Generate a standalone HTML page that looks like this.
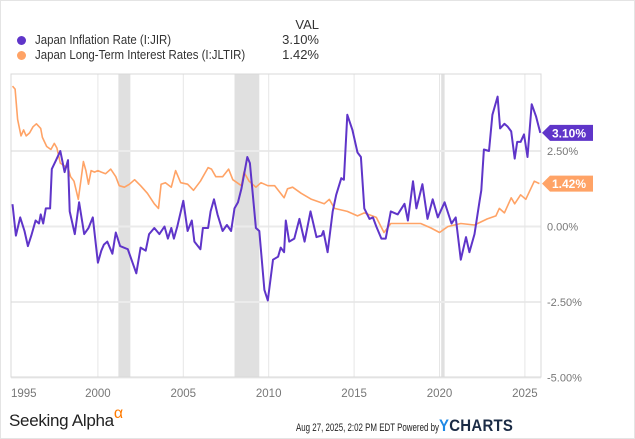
<!DOCTYPE html>
<html><head><meta charset="utf-8"><style>
body{margin:0;background:#fff;}
#wrap{position:relative;width:633px;height:437px;border:1px solid #e4e4e4;font-family:"Liberation Sans",sans-serif;overflow:hidden;}
.t{position:absolute;white-space:nowrap;}
.c{transform:scaleX(0.88);transform-origin:left;}
</style></head><body>
<div id="wrap">
<div class="t" style="left:292px;top:16px;font-size:13px;color:#333;width:26px;text-align:right">VAL</div>
<div>
<div style="position:absolute;left:16px;top:35px;width:9px;height:9px;border-radius:50%;background:#5f35c9"></div>
<div class="t c" style="left:34px;top:31px;font-size:13px;color:#333">Japan Inflation Rate (I:JIR)</div>
<div class="t" style="left:258px;top:31px;width:60px;text-align:right;font-size:13px;color:#333">3.10%</div>
</div>
<div>
<div style="position:absolute;left:16px;top:50px;width:9px;height:9px;border-radius:50%;background:#ffa366"></div>
<div class="t c" style="left:34px;top:46px;font-size:13px;color:#333">Japan Long-Term Interest Rates (I:JLTIR)</div>
<div class="t" style="left:258px;top:46px;width:60px;text-align:right;font-size:13px;color:#333">1.42%</div>
</div>
<svg id="chart" width="633" height="437" style="position:absolute;left:0;top:0"></svg>
<div class="t" style="left:8px;top:410px;font-size:17px;color:#222;letter-spacing:-0.3px">Seeking Alpha<span style="color:#ff7a00;font-size:16px;position:relative;top:-8px">α</span></div>
<div class="t" style="left:295px;top:421px;font-size:11px;color:#222;transform:scaleX(0.72);transform-origin:left">Aug 27, 2025, 2:02 PM EDT Powered by</div>
<div class="t" style="left:438px;top:415px;font-size:17px;font-weight:bold;color:#1a2b45;letter-spacing:0.3px;transform:scaleX(0.88);transform-origin:left"><span style="color:#1e88e5">Y</span>CHARTS</div>
</div>
<script>
const jirYears=[1995.0,1995.2,1995.45,1995.7,1995.9,1996.1,1996.35,1996.55,1996.65,1996.8,1996.95,1997.2,1997.3,1997.55,1997.8,1998.05,1998.25,1998.35,1998.65,1998.9,1999.2,1999.45,1999.7,2000.0,2000.2,2000.35,2000.55,2000.85,2001.05,2001.3,2001.75,2002.25,2002.5,2002.8,2003.0,2003.3,2003.6,2003.9,2004.1,2004.3,2004.45,2004.65,2005.0,2005.25,2005.5,2005.65,2006.0,2006.15,2006.45,2006.6,2006.8,2007.0,2007.3,2007.55,2007.8,2008.0,2008.2,2008.4,2008.75,2008.9,2009.25,2009.45,2009.75,2009.95,2010.25,2010.55,2010.7,2010.9,2011.0,2011.2,2011.5,2011.8,2012.1,2012.45,2012.8,2013.1,2013.2,2013.45,2013.75,2013.95,2014.25,2014.4,2014.6,2014.9,2015.2,2015.4,2015.6,2015.9,2016.1,2016.3,2016.6,2016.85,2017.15,2017.55,2017.95,2018.15,2018.45,2018.65,2019.0,2019.3,2019.6,2019.9,2020.3,2020.7,2020.95,2021.25,2021.55,2021.75,2022.05,2022.35,2022.45,2022.6,2022.9,2023.1,2023.4,2023.55,2023.8,2024.0,2024.2,2024.4,2024.55,2024.75,2024.95,2025.15,2025.4,2025.65,2025.9];
const jirValues=[0.74,-0.3,0.3,-0.15,-0.65,-0.3,0.2,0.1,0.4,0.1,0.6,0.6,1.9,2.2,2.5,1.8,2.2,0.5,-0.25,0.8,-0.25,-0.05,0.3,-1.2,-0.8,-0.6,-0.5,-0.9,-0.2,-0.65,-0.75,-1.55,-0.7,-0.8,-0.25,-0.05,-0.25,0,-0.4,-0.05,-0.4,0,0.85,-0.15,0.2,-0.5,-0.75,-0.05,-0.05,0.5,0.9,0.4,-0.15,0.05,-0.15,0.6,0.8,1.25,2.3,2.1,-0.05,-0.15,-2.1,-2.45,-1.1,-1.0,-0.7,-0.85,0.2,-0.5,-0.4,0.25,-0.5,0.5,-0.35,-0.3,-0.15,-0.85,0.5,1.05,1.6,1.55,3.7,3.2,2.45,2.3,0.6,0.25,0.3,0,-0.4,-0.4,0.5,0.4,0.75,0.2,1.5,0.6,1.4,0.25,0.9,0.3,0.8,0.1,0.3,-1.1,-0.35,-0.85,-0.25,0.85,1.2,2.55,2.5,3.7,4.3,3.25,3.4,3.3,3.15,2.25,2.8,2.8,3.05,2.3,4.05,3.65,3.1];
const jltirYears=[1995.0,1995.15,1995.3,1995.5,1995.65,1995.8,1996.0,1996.2,1996.4,1996.65,1996.75,1997.0,1997.25,1997.45,1997.6,1997.8,1998.05,1998.25,1998.4,1998.6,1998.85,1999.0,1999.15,1999.3,1999.45,1999.6,1999.8,2000.0,2000.2,2000.45,2000.75,2001.05,2001.25,2001.55,2001.85,2002.15,2002.5,2002.9,2003.3,2003.55,2003.7,2003.95,2004.3,2004.55,2004.85,2005.25,2005.6,2006.0,2006.45,2006.65,2006.9,2007.3,2007.65,2007.9,2008.4,2008.55,2008.85,2009.25,2009.55,2009.95,2010.35,2010.9,2011.1,2011.4,2011.9,2012.5,2013.25,2013.55,2013.85,2014.6,2015.2,2015.6,2016.3,2016.75,2017.15,2017.75,2018.3,2018.9,2019.5,2020.0,2020.5,2021.25,2022.05,2022.8,2023.3,2023.5,2023.8,2024.2,2024.4,2024.75,2025.05,2025.55,2025.85];
const jltirValues=[4.65,4.55,3.55,3.0,3.2,3.0,3.1,3.3,3.4,3.25,2.95,2.65,2.55,2.75,2.6,2.1,2.0,1.95,1.65,1.5,0.9,1.5,2.15,1.85,1.4,1.85,1.8,1.85,1.8,1.75,1.9,1.65,1.35,1.3,1.4,1.55,1.35,1.1,0.75,0.6,1.4,1.45,1.3,1.85,1.45,1.4,1.2,1.5,1.95,1.9,1.65,1.65,1.9,1.55,1.35,1.8,1.5,1.3,1.45,1.35,1.35,0.95,1.25,1.3,1.1,0.9,0.75,0.9,0.6,0.5,0.35,0.45,0.3,-0.2,0.1,0.1,0.1,0.1,-0.05,-0.2,0,0.1,0.05,0.25,0.35,0.6,0.45,0.95,0.75,1.05,0.9,1.5,1.42];
const recessionStarts=[2001.2,2008.0,2020.1];
const recessionEnds=[2001.9,2009.45,2020.3];
const xTicks=[1995,2000,2005,2010,2015,2020,2025];
const yTicks=[2.5,0,-2.5,-5];
const yTickLabels=["2.50%","0.00%","-2.50%","-5.00%"];
const lastLabels=["3.10%","1.42%"];

const NS="http://www.w3.org/2000/svg";
const svg=document.getElementById('chart');
const L=10,R=540,T=73,B=376;
const x=y=>11.5+(y-1995)*17.08;
const yS=v=>225.5-v*30.2;
function mk(tag,attrs,parent){const e=document.createElementNS(NS,tag);for(const k in attrs)e.setAttribute(k,attrs[k]);(parent||svg).appendChild(e);return e;}
recessionStarts.forEach((s,i)=>{const r=mk('rect',{x:x(s),y:T,width:x(recessionEnds[i])-x(s),height:B-T,fill:'#e0e0e0'});

});
yTicks.forEach((v,i)=>{const l=mk('line',{x1:L,x2:R,y1:yS(v),y2:yS(v),stroke:'#ebebeb','stroke-width':2});


const t=mk('text',{x:546,y:yS(v)+4,'font-size':11,fill:'#777','font-family':'Liberation Sans, sans-serif'});t.textContent=yTickLabels[i];

});
xTicks.forEach((v,i)=>{if(v>1995){const l=mk('line',{x1:x(v),x2:x(v),y1:T,y2:B,stroke:'#e6e6e6','stroke-width':1});

}
const t=mk('text',{x:i===0?10:x(v),y:396,'font-size':11.5,fill:'#777','text-anchor':i===0?'start':'middle','font-family':'Liberation Sans, sans-serif'});t.textContent=v;

});
const frame=mk('path',{d:`M${L},${T}H${R}V${B}H${L}Z`,fill:'none',stroke:'#d8d8d8','stroke-width':1});


function line(ys,vs,color,w,name){const d=ys.map((yr,i)=>(i?'L':'M')+x(yr).toFixed(1)+','+yS(vs[i]).toFixed(1)).join('');
const p=mk('path',{d,fill:'none',stroke:color,'stroke-width':w,'stroke-linejoin':'round'});

}
line(jltirYears,jltirValues,'#ffa366',1.6,'series-jltir');
line(jirYears,jirValues,'#5f35c9',2,'series-jir');
function badge(v,txt,color,name){const cy=yS(v);
const g=mk('g',{});


mk('path',{d:`M541,${cy}L549,${cy-8}H592V${cy+8}H549Z`,fill:color},g);
const t=mk('text',{x:551,y:cy+4.5,'font-size':12,'font-weight':'bold',fill:'#fff','font-family':'Liberation Sans, sans-serif'},g);t.textContent=txt;}
badge(jirValues[jirValues.length-1],lastLabels[0],'#5f35c9','last-value-badge-jir');
badge(jltirValues[jltirValues.length-1],lastLabels[1],'#ffa366','last-value-badge-jltir');
</script>
</body></html>
